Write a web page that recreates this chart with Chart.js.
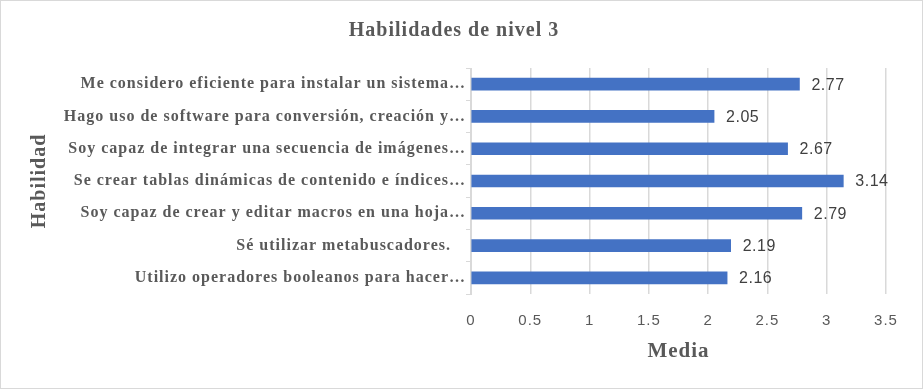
<!DOCTYPE html>
<html>
<head>
<meta charset="utf-8">
<script src="https://cdn.jsdelivr.net/npm/chart.js@4/dist/chart.umd.min.js"></script>
<style>
  html, body { margin: 0; padding: 0; background: #fff; }
  #cadre { width: 923px; height: 389px; }
</style>
</head>
<body>
<div id="cadre"><canvas id="grafico"></canvas></div>
<script>
// données
const habilidades = [
  "Me considero eficiente para instalar un sistema…",
  "Hago uso de software para conversión, creación y…",
  "Soy capaz de integrar una secuencia de imágenes…",
  "Se crear tablas dinámicas de contenido e índices…",
  "Soy capaz de crear y editar macros en una hoja…",
  "Sé utilizar metabuscadores.   ",
  "Utilizo operadores booleanos para hacer…"
];
const medias = [2.77, 2.05, 2.67, 3.14, 2.79, 2.19, 2.16];
const xMin = 0;
const xMax = 3.5;
const xPas = 0.5;

const gris = "#595959";
const grisClair = "#d9d9d9";
const serif = "'Liberation Serif', 'Times New Roman', serif";
const sans = "'Liberation Sans', Arial, sans-serif";

// le texte de l'original est un peu espacé : letterSpacing sur le contexte
const pluginEtiquettes = {
  id: "etiquettes",
  beforeDraw(chart) {
    chart.ctx.letterSpacing = "1px";
  },
  afterDatasetsDraw(chart) {
    const ctx = chart.ctx;
    const meta = chart.getDatasetMeta(0);
    ctx.save();
    ctx.letterSpacing = "0.5px";
    ctx.font = "16px " + sans;
    ctx.fillStyle = "#404040";
    ctx.textAlign = "left";
    ctx.textBaseline = "middle";
    meta.data.forEach((barre, i) => {
      ctx.fillText(medias[i].toFixed(2), barre.x + 12, barre.y + 1);
    });
    ctx.restore();
  },
  afterDraw(chart) {
    const ctx = chart.ctx;
    ctx.save();
    ctx.strokeStyle = grisClair;
    ctx.lineWidth = 1;
    ctx.strokeRect(0.5, 0.5, chart.width - 1, chart.height - 1);
    ctx.restore();
  }
};

const configuration = {
  type: "bar",
  data: {
    labels: habilidades,
    datasets: [
      {
        label: "Media",
        data: medias,
        backgroundColor: "#4472C4",
        barThickness: 12
      }
    ]
  },
  options: {
    indexAxis: "y",
    responsive: true,
    maintainAspectRatio: false,
    animation: false,
    layout: { padding: { left: 22, right: 37, top: 0, bottom: 20 } },
    plugins: {
      legend: { display: false },
      tooltip: { enabled: false },
      title: {
        display: true,
        text: "Habilidades de nivel 3",
        color: gris,
        font: { family: serif, size: 20, weight: "bold", lineHeight: 1.2 },
        padding: { top: 19, bottom: 25 }
      }
    },
    scales: {
      x: {
        min: xMin,
        max: xMax,
        ticks: {
          stepSize: xPas,
          color: gris,
          font: { family: sans, size: 15 },
          padding: 18,
          callback: (valeur) => valeur.toString()
        },
        grid: {
          display: true,
          drawTicks: false,
          color: grisClair,
          lineWidth: 1.5
        },
        border: { display: false },
        title: {
          display: true,
          text: "Media",
          color: gris,
          font: { family: serif, size: 21, weight: "bold", lineHeight: 1.2 },
          padding: { top: 0, bottom: 5 }
        },
        afterFit(scale) { scale.height = 75; }
      },
      y: {
        ticks: {
          color: gris,
          font: { family: serif, size: 16, weight: "bold" },
          padding: 0,
          autoSkip: false
        },
        grid: {
          drawOnChartArea: false,
          drawTicks: true,
          tickLength: 5,
          color: grisClair
        },
        border: { display: true, color: grisClair },
        title: {
          display: true,
          text: "Habilidad",
          color: gris,
          font: { family: serif, size: 20, weight: "bold", lineHeight: 1.2 },
          padding: { top: 6, bottom: 0 }
        },
        afterFit(scale) { scale.width = 449; }
      }
    }
  },
  plugins: [pluginEtiquettes]
};

const graphique = document.getElementById("grafico");
const chart = new Chart(graphique, configuration);
</script>
</body>
</html>
